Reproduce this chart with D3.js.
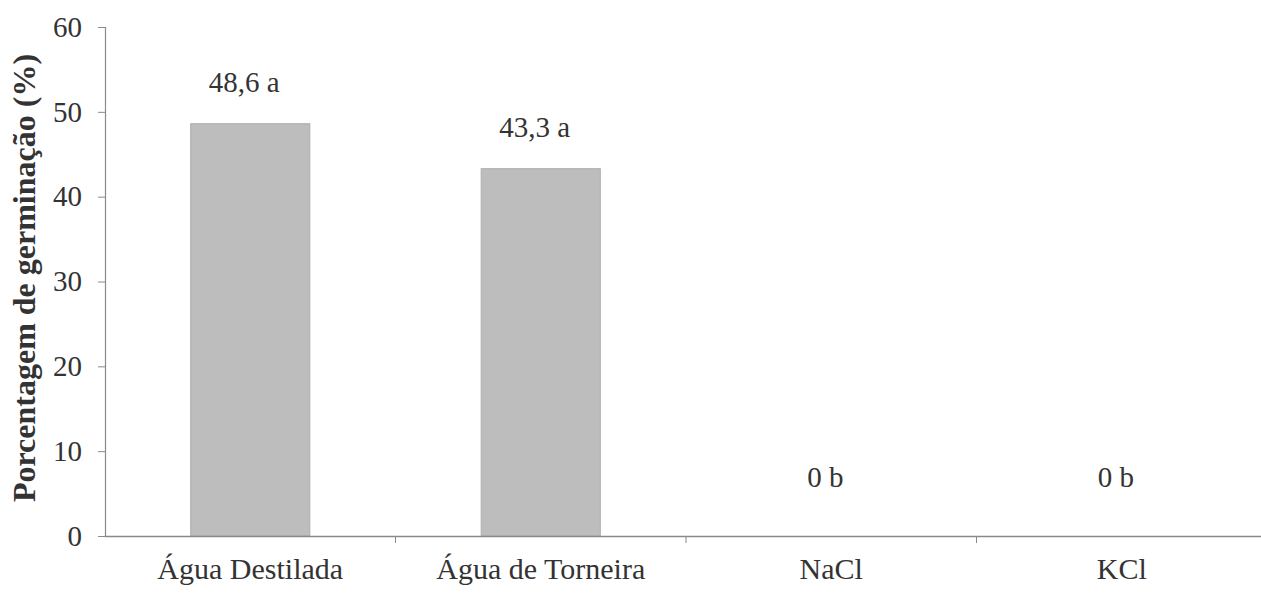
<!DOCTYPE html>
<html>
<head>
<meta charset="utf-8">
<script src="https://cdn.jsdelivr.net/npm/d3@7"></script>
<style>
  body { margin: 0; background: #fff; }
  svg { display: block; }
  svg text { font-family: "Liberation Serif", "Times New Roman", serif; }
</style>
</head>
<body>
<div id="chart"></div>
<script>
var width = 1261;
var height = 593;

var categories = ["Água Destilada", "Água de Torneira", "NaCl", "KCl"];
var values = [48.6, 43.3, 0, 0];
var letters = ["a", "a", "b", "b"];
var yTicks = [0, 10, 20, 30, 40, 50, 60];
var yTitle = "Porcentagem de germinação (%)";

var font = "Liberation Serif, Times New Roman, serif";

var svg = d3.select("#chart")
            .append("svg")
            .attr("width", width)
            .attr("height", height);

var x = d3.scaleBand()
          .domain(categories)
          .range([105, 1267])
          .paddingInner(0.59)
          .paddingOuter(0.295);

var y = d3.scaleLinear()
          .domain([0, 60])
          .range([536, 27]);

// bars
svg.selectAll("rect.bar")
    .data(values)
    .enter()
    .append("rect")
    .attr("class", "bar")
    .attr("x", (d, i) => x(categories[i]))
    .attr("y", d => y(d))
    .attr("width", x.bandwidth())
    .attr("height", d => y(0) - y(d))
    .attr("fill", "#bdbdbd")
    .attr("stroke", "#adadad")
    .attr("stroke-width", 1);

// y axis
var yAxis = d3.axisLeft(y)
              .tickValues(yTicks)
              .tickSize(7)
              .tickPadding(16)
              .tickFormat(d3.format("d"));
var gy = svg.append("g")
    .attr("transform", "translate(105,0)")
    .call(yAxis)
    .attr("font-family", font);
gy.select(".domain").attr("stroke", "#8a8a8a").attr("stroke-width", 1.2);
gy.selectAll(".tick line").attr("stroke", "#8a8a8a");
gy.selectAll("text")
    .attr("fill", "#333")
    .attr("font-size", 29);

// x axis
var xAxis = d3.axisBottom(x)
              .tickSize(0)
              .tickPadding(22)
              .tickSizeOuter(0);
var gx = svg.append("g")
    .attr("transform", "translate(0," + y(0) + ")")
    .call(xAxis)
    .attr("font-family", font);
gx.select(".domain").attr("stroke", "#8a8a8a").attr("stroke-width", 1.4);
gx.selectAll("text")
    .attr("fill", "#333")
    .attr("font-size", 30);

// tick marks between categories
var step = x.step();
svg.selectAll("line.sep")
    .data(categories.slice(1))
    .enter()
    .append("line")
    .attr("class", "sep")
    .attr("x1", d => x(d) - step * x.paddingInner() / 2)
    .attr("x2", d => x(d) - step * x.paddingInner() / 2)
    .attr("y1", y(0))
    .attr("y2", y(0) + 7)
    .attr("stroke", "#8a8a8a");

// value labels
svg.selectAll("text.val")
    .data(values)
    .enter()
    .append("text")
    .attr("class", "val")
    .attr("x", (d, i) => x(categories[i]) + x.bandwidth() / 2 - 6)
    .attr("y", d => y(Math.max(d, 2)) - 32)
    .attr("text-anchor", "middle")
    .attr("fill", "#333")
    .attr("font-family", font)
    .attr("font-size", 29)
    .text((d, i) => String(d).replace(".", ",") + " " + letters[i]);

// y title
svg.append("text")
    .attr("transform", "translate(35,278) rotate(-90)")
    .attr("text-anchor", "middle")
    .attr("fill", "#333")
    .attr("font-family", font)
    .attr("font-size", 32)
    .attr("font-weight", "bold")
    .text(yTitle);
</script>
</body>
</html>
